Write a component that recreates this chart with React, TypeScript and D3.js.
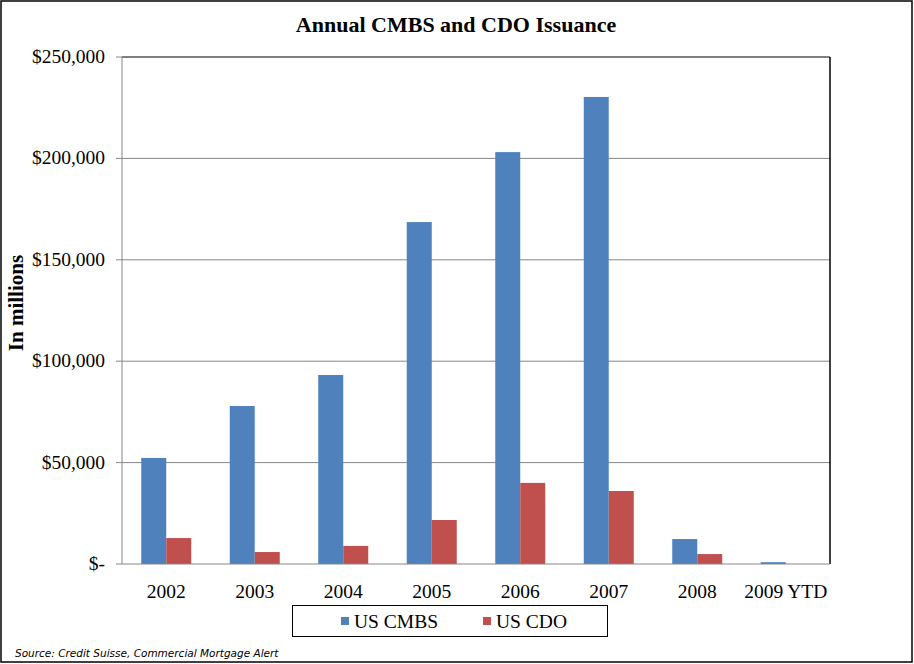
import React from "react";
import * as d3 from "d3";

const categories = ["2002", "2003", "2004", "2005", "2006", "2007", "2008", "2009 YTD"];
const usCMBS = [52300, 77900, 93200, 168600, 203100, 230300, 12300, 900];
const usCDO = [12800, 5900, 8900, 21700, 40000, 36000, 4900, 0];
const yTicks = [0, 50000, 100000, 150000, 200000, 250000];
const seriesNames = ["US CMBS", "US CDO"];
const colors = ["#4F81BD", "#C0504D"];

const W = 914, H = 664;
const L = 122, R = 830, T = 57, B = 564;

export default function App() {
  const x = d3.scaleBand<string>().domain(categories).range([L, R])
    .paddingInner(0.435).paddingOuter(0.2175);
  const x1 = d3.scaleBand<number>().domain([0, 1]).range([0, x.bandwidth()]);
  const y = d3.scaleLinear().domain([0, 250000]).range([B, T]);
  const fmt = (v: number) => (v === 0 ? "$-" : "$" + d3.format(",")(v));
  const series = [usCMBS, usCDO];
  const serif = "'Liberation Serif', 'Times New Roman', serif";

  return (
    <svg width={W} height={H} style={{ position: "absolute", left: 0, top: 0, background: "#fff" }}>
      <rect x={1} y={1} width={W - 3} height={H - 3} fill="#fff" stroke="#000" strokeWidth={1.5} />
      <text x={456} y={32} textAnchor="middle" fontFamily={serif} fontWeight="bold" fontSize={22}>
        Annual CMBS and CDO Issuance
      </text>
      {yTicks.map((t) => (
        <g key={t}>
          {t > 0 && t < 250000 && (
            <line x1={L} x2={R} y1={y(t)} y2={y(t)} stroke="#868686" strokeWidth={1} />
          )}
          <line x1={L - 6} x2={L} y1={y(t)} y2={y(t)} stroke="#868686" />
          <text x={105} y={y(t) + 6} textAnchor="end" fontFamily={serif} fontSize={19.5}>
            {fmt(t)}
          </text>
        </g>
      ))}
      {series.map((vals, si) =>
        categories.map((c, i) => (
          <rect key={si + "-" + c} x={(x(c) as number) + (x1(si) as number)} y={y(vals[i])}
            width={x1.bandwidth()} height={B - y(vals[i])} fill={colors[si]} />
        ))
      )}
      <line x1={L} x2={R} y1={T} y2={T} stroke="#000" strokeWidth={1} />
      <line x1={R} x2={R} y1={T} y2={B} stroke="#000" strokeWidth={1.5} />
      <line x1={L} x2={L} y1={T} y2={B} stroke="#868686" strokeWidth={1} />
      <line x1={L} x2={R} y1={B} y2={B} stroke="#868686" strokeWidth={1} />
      {categories.map((c) => (
        <text key={c} x={(x(c) as number) + x.bandwidth() / 2} y={598} textAnchor="middle"
          fontFamily={serif} fontSize={19.5}>
          {c}
        </text>
      ))}
      <text transform="translate(23,303) rotate(-90)" textAnchor="middle" fontFamily={serif}
        fontWeight="bold" fontSize={21}>
        In millions
      </text>
      <rect x={292.5} y={605.5} width={315} height={31} fill="#fff" stroke="#000" strokeWidth={1} />
      {seriesNames.map((n, i) => (
        <g key={n} transform={`translate(${i === 0 ? 341 : 483},0)`}>
          <rect x={0} y={617} width={8} height={8} fill={colors[i]} />
          <text x={13} y={628} fontFamily={serif} fontSize={19.5}>{n}</text>
        </g>
      ))}
      <text x={15} y={657} fontFamily="'DejaVu Sans', sans-serif" fontStyle="italic" fontSize={10.5}>
        Source: Credit Suisse, Commercial Mortgage Alert
      </text>
    </svg>
  );
}
